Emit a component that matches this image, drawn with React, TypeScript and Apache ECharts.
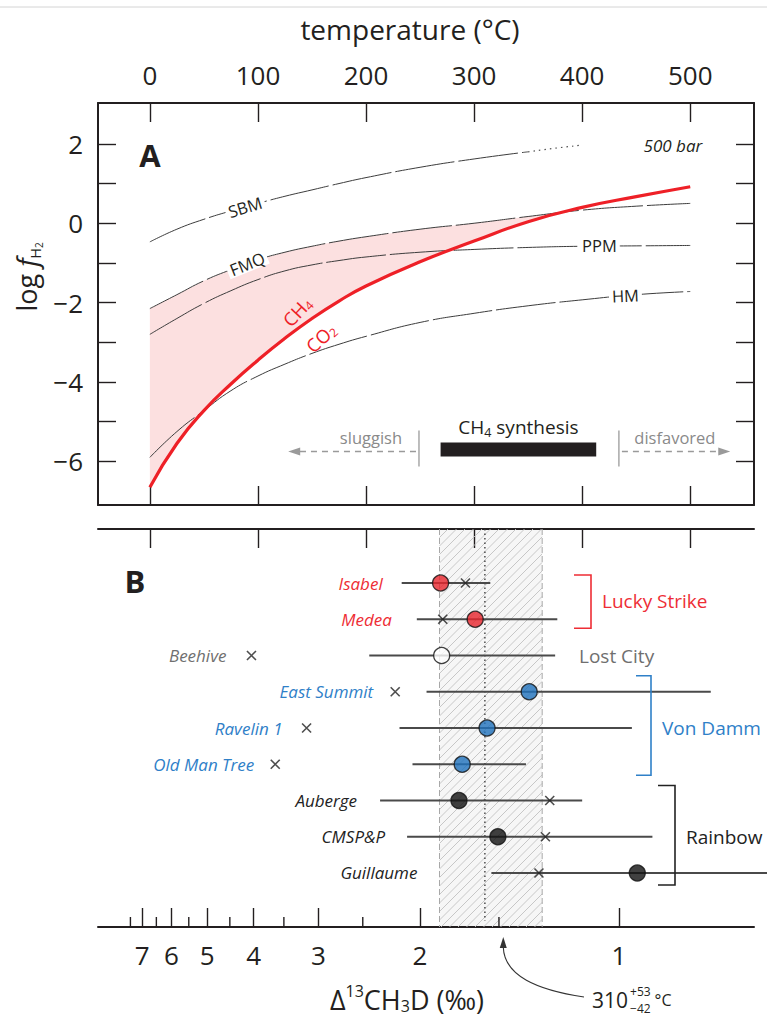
import React, { useEffect, useRef } from 'react';
import * as echarts from 'echarts';

const FONT = "'Open Sans', 'Noto Sans', 'DejaVu Sans', sans-serif";
const INK = '#231f20';

// ================= DATA =================
// Panel A: temperature axis (°C) and log fH2 axis
const tempTicks = [0, 100, 200, 300, 400, 500];
const logTicks = [-6, -5, -4, -3, -2, -1, 0, 1, 2];
const logLabels = [-6, -4, -2, 0, 2];

// Buffer curves at 500 bar (log fH2 vs T)
const curveT = [0, 25, 50, 75, 100, 125, 150, 175, 200, 250, 300, 350, 400, 450, 500];
const ch4co2 = [-6.65, -5.55, -4.72, -4.05, -3.45, -2.9, -2.4, -1.96, -1.58, -0.97, -0.45, 0.04, 0.4, 0.67, 0.92];
const fmq = [-2.15, -1.8, -1.45, -1.17, -0.92, -0.73, -0.58, -0.45, -0.34, -0.15, 0.0, 0.17, 0.33, 0.43, 0.5];
const ppm = [-2.8, -2.4, -2.02, -1.7, -1.42, -1.2, -1.05, -0.94, -0.85, -0.73, -0.66, -0.61, -0.58, -0.57, -0.56];
const hm = [-5.9, -5.25, -4.72, -4.22, -3.85, -3.55, -3.28, -3.05, -2.85, -2.5, -2.27, -2.08, -1.93, -1.8, -1.72];
const sbmT = [0, 25, 50, 75, 100, 125, 150, 175, 200, 250, 300, 350];
const sbm = [-0.47, -0.15, 0.1, 0.31, 0.5, 0.68, 0.84, 1.0, 1.15, 1.41, 1.62, 1.8];
const sbmDotT = [350, 375, 400];
const sbmDot = [1.8, 1.89, 1.97];

// CH4 synthesis window (°C)
const synthesisRange = [269, 413];
const sluggishEdge = 249;
const disfavoredEdge = 434;
const synthesisLevel = -5.7;

// Panel B: clumped-isotope temperatures (°C)
const sites = ['Isabel', 'Medea', 'Beehive', 'East Summit', 'Ravelin 1', 'Old Man Tree', 'Auberge', 'CMSP&P', 'Guillaume'];
const siteField = ['Lucky Strike', 'Lucky Strike', 'Lost City', 'Von Damm', 'Von Damm', 'Von Damm', 'Rainbow', 'Rainbow', 'Rainbow'];
const siteT = [269, 301, 270, 351, 312, 289, 286, 322, 451];
const siteTLow = [233, 247, 203, 256, 231, 243, 213, 238, 316];
const siteTHigh = [315, 377, 375, 519, 446, 348, 400, 465, 575];
const crossT = [292, 271, 94, 227, 145, 116, 370, 366, 360];
const fields = ['Lucky Strike', 'Lost City', 'Von Damm', 'Rainbow'];

const bandCenter = 310;
const bandPlus = 53;
const bandMinus = 42;

// Δ13CH3D scale expressed in equivalent temperatures
const deltaMajor = [7, 6, 5, 4, 3, 2, 1];
const deltaMajorT = [-7, 20, 53, 96, 156, 250, 434];
const deltaMinor = [7.5, 6.5, 5.5, 4.5, 3.5, 2.5, 1.5];
const deltaMinorT = [-18, 6, 36, 74, 124, 197, 323];

// ================= STYLE / LAYOUT =================
const fieldLabelColor: Record<string, string> = {
  'Lucky Strike': '#ee2d35', 'Lost City': '#6f6f6f', 'Von Damm': '#2f80c8', 'Rainbow': '#222222',
};
const fieldDotColor: Record<string, string> = {
  'Lucky Strike': '#e8262d', 'Lost City': '#ffffff', 'Von Damm': '#1f72bd', 'Rainbow': '#111111',
};
const labelGap = [19, 25, 25, 22, 24, 21, 23, 22, 74];
const bracketLayout: Record<string, { x: number; pad: [number, number]; arm: number }> = {
  'Lucky Strike': { x: 591, pad: [8, 9], arm: 17 },
  'Von Damm': { x: 651, pad: [16, 11], arm: 15 },
  'Rainbow': { x: 675, pad: [15, 12], arm: 17 },
};
const lostCityLabelX = 579;

// ================= HELPERS =================
let measureCtx: CanvasRenderingContext2D | null = null;
function textWidth(t: string, size: number, italic = false, bold = false) {
  if (!measureCtx) measureCtx = document.createElement('canvas').getContext('2d');
  measureCtx!.font = `${italic ? 'italic ' : ''}${bold ? 'bold ' : ''}${size}px ${FONT}`;
  return measureCtx!.measureText(t).width;
}

type Part = { t: string; size: number; dy?: number; italic?: boolean; bold?: boolean; color?: string };

function richRow(
  x: number, y: number, parts: Part[],
  opts: { align?: 'left' | 'center' | 'right'; color?: string; rotation?: number; bg?: string } = {}
) {
  const ws = parts.map((p) => textWidth(p.t, p.size, p.italic, p.bold));
  const total = ws.reduce((a, b) => a + b, 0);
  let cx = opts.align === 'center' ? -total / 2 : opts.align === 'right' ? -total : 0;
  const children: any[] = [];
  if (opts.bg) {
    const maxS = Math.max(...parts.map((p) => p.size));
    children.push({
      type: 'rect', z: 100,
      shape: { x: cx - 3, y: -maxS * 0.5, width: total + 6, height: maxS * 1.0 },
      style: { fill: opts.bg },
    });
  }
  parts.forEach((p, i) => {
    children.push({
      type: 'text', z: 101, x: cx, y: p.dy || 0,
      style: {
        text: p.t, fontSize: p.size, fontFamily: FONT,
        fontStyle: p.italic ? 'italic' : 'normal', fontWeight: p.bold ? 'bold' : 'normal',
        fill: p.color || opts.color || INK, align: 'left', verticalAlign: 'middle',
      },
    });
    cx += ws[i];
  });
  return { type: 'group', x, y, rotation: opts.rotation || 0, z: 100, children };
}

function pinkPolygon(): number[][] {
  const upper: number[][] = [];
  const lower: number[][] = [];
  for (let i = 0; i < curveT.length; i++) {
    const d = fmq[i] - ch4co2[i];
    if (d >= 0) {
      upper.push([curveT[i], fmq[i]]);
      lower.push([curveT[i], ch4co2[i]]);
    } else {
      const dPrev = fmq[i - 1] - ch4co2[i - 1];
      const f = dPrev / (dPrev - d);
      const t = curveT[i - 1] + f * (curveT[i] - curveT[i - 1]);
      const v = fmq[i - 1] + f * (fmq[i] - fmq[i - 1]);
      upper.push([t, v]);
      break;
    }
  }
  return upper.concat(lower.reverse());
}

function buildOption(): any {
  const axisLine = { show: true, onZero: false, lineStyle: { color: INK, width: 2 } };
  const tick = (vals: number[], len = 19) => ({
    show: true, inside: true, length: len, customValues: vals, lineStyle: { color: INK, width: 1.4 },
  });
  const xBase = { type: 'value', min: -48, max: 559, splitLine: { show: false }, axisLine };
  const yA = { type: 'value', min: -7.1, max: 3.03, splitLine: { show: false }, axisLine, gridIndex: 0 };
  const lineSeries = (name: string, T: number[], V: number[], lineStyle: any, z = 3) => ({
    type: 'line', name, xAxisIndex: 0, yAxisIndex: 0, silent: true, z,
    data: T.map((t, i) => [t, V[i]]), smooth: 0.5, symbol: 'none', lineStyle,
  });
  const thin = { color: '#3c3c3c', width: 1, type: [60, 4] };
  const poly = pinkPolygon();

  return {
    animation: false,
    backgroundColor: '#ffffff',
    textStyle: { fontFamily: FONT },
    grid: [
      { left: 98, top: 103, width: 656, height: 402, containLabel: false, outerBoundsMode: 'none' },
      { left: 98, top: 529, width: 656, height: 398, containLabel: false, outerBoundsMode: 'none' },
    ],
    xAxis: [
      {
        ...xBase, gridIndex: 0, position: 'top', axisTick: tick(tempTicks),
        axisLabel: { show: true, customValues: tempTicks, fontSize: 26, fontFamily: FONT, color: INK, margin: 15 },
      },
      { ...xBase, gridIndex: 0, position: 'bottom', axisTick: tick(tempTicks), axisLabel: { show: false } },
      { ...xBase, gridIndex: 1, position: 'top', axisTick: tick(tempTicks), axisLabel: { show: false } },
      {
        ...xBase, gridIndex: 1, position: 'bottom', axisTick: tick(deltaMajorT),
        axisLabel: {
          show: true, customValues: deltaMajorT, fontSize: 26, fontFamily: FONT, color: INK, margin: 15,
          formatter: (v: number) => {
            const i = deltaMajorT.findIndex((t) => Math.abs(t - v) < 1e-6);
            return i >= 0 ? String(deltaMajor[i]) : '';
          },
        },
      },
    ],
    yAxis: [
      {
        ...yA, position: 'left', axisTick: tick(logTicks, 18),
        axisLabel: {
          show: true, customValues: logLabels, fontSize: 26, fontFamily: FONT, color: INK, margin: 15,
          formatter: (v: number) => (v < 0 ? '\u2212' + Math.abs(v) : String(v)),
        },
      },
      { ...yA, position: 'right', axisTick: tick(logTicks, 18), axisLabel: { show: false } },
      { type: 'value', gridIndex: 1, min: -1.49, max: 9.49, inverse: true, show: false },
    ],
    series: [
      {
        type: 'custom', name: 'CH4 field', xAxisIndex: 0, yAxisIndex: 0, silent: true, z: 1,
        data: [[0, 0]],
        renderItem: (_p: any, api: any) => ({
          type: 'polygon',
          shape: { points: poly.map((pt) => api.coord(pt)) },
          style: { fill: 'rgba(238, 70, 70, 0.17)' },
        }),
      },
      lineSeries('SBM', sbmT, sbm, thin),
      lineSeries('SBM ext', sbmDotT, sbmDot, { color: '#555', width: 1.2, type: [1.5, 4] }),
      lineSeries('FMQ', curveT, fmq, thin),
      lineSeries('PPM', curveT, ppm, thin),
      lineSeries('HM', curveT, hm, thin),
      lineSeries('CH4/CO2', curveT, ch4co2, { color: '#ee2027', width: 3.2 }, 4),
      // Panel B: temperature band
      {
        type: 'custom', name: 'band', xAxisIndex: 2, yAxisIndex: 2, silent: true, z: 1,
        data: [[bandCenter, 0]],
        renderItem: (params: any, api: any) => {
          const cs = params.coordSys;
          const yT = cs.y;
          const yB = cs.y + cs.height;
          const xL = api.coord([bandCenter - bandMinus, 0])[0];
          const xR = api.coord([bandCenter + bandPlus, 0])[0];
          const xC = api.coord([bandCenter, 0])[0];
          const children: any[] = [
            { type: 'rect', shape: { x: xL, y: yT, width: xR - xL, height: yB - yT }, style: { fill: 'rgba(0,0,0,0.035)' } },
          ];
          for (let c = xL + yT; c <= xR + yB; c += 8.5) {
            const xa = Math.max(xL, c - yB);
            const xb = Math.min(xR, c - yT);
            if (xb > xa) {
              children.push({
                type: 'line', shape: { x1: xa, y1: c - xa, x2: xb, y2: c - xb },
                style: { stroke: '#c2c2c2', lineWidth: 0.9 },
              });
            }
          }
          [xL, xR].forEach((x) => children.push({
            type: 'line', shape: { x1: x, y1: yT, x2: x, y2: yB },
            style: { stroke: '#a8a8a8', lineWidth: 1, lineDash: [6, 3] },
          }));
          children.push({
            type: 'line', shape: { x1: xC, y1: yT, x2: xC, y2: yB - 6 },
            style: { stroke: '#333', lineWidth: 1.3, lineDash: [1.5, 3] },
          });
          return { type: 'group', children };
        },
      },
      // Panel B: error bars + site names
      {
        type: 'custom', name: 'ranges', xAxisIndex: 2, yAxisIndex: 2, silent: true, z: 3,
        encode: { x: [0, 2], y: 1 },
        data: sites.map((_, i) => [siteTLow[i], i, siteTHigh[i], Math.min(siteTLow[i], crossT[i])]),
        renderItem: (params: any, api: any) => {
          const i = params.dataIndex;
          const a = api.coord([api.value(0), api.value(1)]);
          const b = api.coord([api.value(2), api.value(1)]);
          const lm = api.coord([api.value(3), api.value(1)]);
          return {
            type: 'group',
            children: [
              { type: 'line', shape: { x1: a[0], y1: a[1], x2: b[0], y2: b[1] }, style: { stroke: '#4a4a4a', lineWidth: 1.8 } },
              {
                type: 'text', x: lm[0] - labelGap[i], y: lm[1],
                style: {
                  text: sites[i], fill: fieldLabelColor[siteField[i]], fontSize: 17, fontStyle: 'italic',
                  fontFamily: FONT, align: 'right', verticalAlign: 'middle',
                },
              },
            ],
          };
        },
      },
      {
        type: 'scatter', name: 'model', xAxisIndex: 2, yAxisIndex: 2, silent: true, z: 4,
        symbol: 'path://M0,0L10,10M0,10L10,0', symbolSize: 9,
        itemStyle: { color: 'rgba(0,0,0,0)', borderColor: '#222', borderWidth: 1.6 },
        data: crossT.map((t, i) => [t, i]),
      },
      {
        type: 'scatter', name: 'sites', xAxisIndex: 2, yAxisIndex: 2, silent: true, z: 5,
        symbol: 'circle', symbolSize: 16,
        itemStyle: { borderColor: '#111', borderWidth: 1.3 },
        data: siteT.map((t, i) => ({ value: [t, i], itemStyle: { color: fieldDotColor[siteField[i]] } })),
      },
    ],
  };
}

function buildGraphics(P: (g: number, x: number, y: number) => number[]) {
  const els: any[] = [];
  const gray = '#9a9a9a';
  // page rule at the very top
  els.push({ type: 'line', shape: { x1: 0, y1: 7, x2: 767, y2: 7 }, style: { stroke: '#d4d4d4', lineWidth: 1 } });
  // titles
  els.push(richRow(410, 29, [{ t: 'temperature (°C)', size: 28 }], { align: 'center' }));
  els.push(richRow(150, 155, [{ t: 'A', size: 31, bold: true }], { align: 'center' }));
  els.push(richRow(135, 581, [{ t: 'B', size: 31, bold: true }], { align: 'center' }));
  els.push(richRow(26, 277, [
    { t: 'log ', size: 27 },
    { t: 'f', size: 27, italic: true },
    { t: 'H', size: 14, dy: 9 },
    { t: '2', size: 10, dy: 13 },
  ], { align: 'center', rotation: Math.PI / 2 }));

  // minor ticks of the Δ13CH3D axis (half-permil steps)
  deltaMinorT.forEach((t) => {
    const p = P(1, t, 9.49);
    els.push({ type: 'line', z: 60, shape: { x1: p[0], y1: p[1], x2: p[0], y2: p[1] - 10 }, style: { stroke: INK, lineWidth: 1.4 } });
  });

  // curve labels
  const lab = (T: number, v: number, text: string, rot: number, italic = false) => {
    const p = P(0, T, v);
    return richRow(p[0], p[1], [{ t: text, size: 16.5, italic }], { align: 'center', rotation: rot, bg: '#ffffff' });
  };
  els.push(lab(88, 0.41, 'SBM', 0.3));
  els.push(lab(90, -1.02, 'FMQ', 0.38));
  els.push(lab(416, -0.57, 'PPM', 0));
  els.push(lab(440, -1.82, 'HM', 0.04));
  const pb = P(0, 484, 1.97);
  els.push(richRow(pb[0], pb[1], [{ t: '500 bar', size: 17, italic: true }], { align: 'center' }));
  const pch4 = P(0, 136, -2.22);
  els.push(richRow(pch4[0], pch4[1], [{ t: 'CH', size: 18.5 }, { t: '4', size: 12, dy: 5 }], { align: 'center', rotation: 0.82, color: '#ee2027' }));
  const pco2 = P(0, 158, -2.88);
  els.push(richRow(pco2[0], pco2[1], [{ t: 'CO', size: 18.5 }, { t: '2', size: 12, dy: 5 }], { align: 'center', rotation: 0.74, color: '#ee2027' }));

  // CH4 synthesis bar and arrows
  const b0 = P(0, synthesisRange[0], synthesisLevel);
  const b1 = P(0, synthesisRange[1], synthesisLevel);
  els.push({ type: 'rect', z: 50, shape: { x: b0[0], y: b0[1] - 7, width: b1[0] - b0[0], height: 14 }, style: { fill: '#231f20' } });
  els.push(richRow((b0[0] + b1[0]) / 2, b0[1] - 22, [{ t: 'CH', size: 19 }, { t: '4', size: 12.5, dy: 5 }, { t: ' synthesis', size: 19 }], { align: 'center' }));
  const sl = P(0, sluggishEdge, synthesisLevel);
  const df = P(0, disfavoredEdge, synthesisLevel);
  [sl, df].forEach((p) => els.push({ type: 'line', z: 50, shape: { x1: p[0], y1: p[1] - 19, x2: p[0], y2: p[1] + 17 }, style: { stroke: gray, lineWidth: 1.3 } }));
  const slEnd = P(0, 128, synthesisLevel);
  const dfEnd = P(0, 537, synthesisLevel);
  els.push({ type: 'line', z: 50, shape: { x1: sl[0] - 3, y1: sl[1] + 2, x2: slEnd[0] + 10, y2: slEnd[1] + 2 }, style: { stroke: gray, lineWidth: 1.5, lineDash: [6, 5] } });
  els.push({ type: 'polygon', z: 50, shape: { points: [[slEnd[0], slEnd[1] + 2], [slEnd[0] + 12, slEnd[1] - 2], [slEnd[0] + 12, slEnd[1] + 6]] }, style: { fill: gray } });
  els.push({ type: 'line', z: 50, shape: { x1: df[0] + 3, y1: df[1] + 2, x2: dfEnd[0] - 10, y2: dfEnd[1] + 2 }, style: { stroke: gray, lineWidth: 1.5, lineDash: [6, 5] } });
  els.push({ type: 'polygon', z: 50, shape: { points: [[dfEnd[0], dfEnd[1] + 2], [dfEnd[0] - 12, dfEnd[1] - 2], [dfEnd[0] - 12, dfEnd[1] + 6]] }, style: { fill: gray } });
  els.push(richRow(sl[0] - 48, sl[1] - 12, [{ t: 'sluggish', size: 16.5, color: '#8a8a8a' }], { align: 'center' }));
  els.push(richRow(df[0] + 56, df[1] - 12, [{ t: 'disfavored', size: 16.5, color: '#8a8a8a' }], { align: 'center' }));

  // Panel B brackets and field names
  fields.forEach((f) => {
    const rows = siteField.map((s, i) => (s === f ? i : -1)).filter((i) => i >= 0);
    const yTop = P(1, 0, rows[0])[1];
    const yBot = P(1, 0, rows[rows.length - 1])[1];
    const color = fieldLabelColor[f];
    if (f === 'Lost City') {
      els.push(richRow(lostCityLabelX, yTop, [{ t: f, size: 19 }], { color }));
      return;
    }
    const L = bracketLayout[f];
    const y0 = yTop - L.pad[0];
    const y1 = yBot + L.pad[1];
    els.push({
      type: 'polyline', z: 60,
      shape: { points: [[L.x - L.arm, y0], [L.x, y0], [L.x, y1], [L.x - L.arm, y1]] },
      style: { stroke: color, lineWidth: 1.6, fill: 'none' },
    });
    els.push(richRow(L.x + 11, (yTop + yBot) / 2, [{ t: f, size: 19 }], { color }));
  });

  // Δ13CH3D axis title
  els.push(richRow(407, 999, [
    { t: '\u0394', size: 27 },
    { t: '13', size: 16, dy: -8 },
    { t: 'CH', size: 27 },
    { t: '3', size: 16, dy: 7 },
    { t: 'D (\u2030)', size: 27 },
  ], { align: 'center' }));

  // 310 +53/-42 °C annotation with curved arrow
  const w310 = textWidth('310', 21);
  const wSup = Math.max(textWidth('+53', 12), textWidth('\u221242', 12));
  els.push(richRow(592, 1000, [{ t: '310', size: 21 }]));
  els.push(richRow(592 + w310 + 2, 991, [{ t: '+53', size: 12 }]));
  els.push(richRow(592 + w310 + 2, 1008, [{ t: '\u221242', size: 12 }]));
  els.push(richRow(592 + w310 + wSup + 6, 1000, [{ t: '°C', size: 16 }]));
  const tip = P(1, bandCenter + 17, 9.49);
  els.push({
    type: 'bezierCurve', z: 60,
    shape: { x1: 584, y1: 997, cpx1: 537, cpy1: 990, cpx2: tip[0] + 1, cpy2: 976, x2: tip[0], y2: tip[1] + 20 },
    style: { stroke: '#333', lineWidth: 1.1, fill: 'none' },
  });
  els.push({
    type: 'polygon', z: 60,
    shape: { points: [[tip[0], tip[1] + 10], [tip[0] - 3.5, tip[1] + 21], [tip[0] + 3.5, tip[1] + 21]] },
    style: { fill: '#333' },
  });
  return els;
}

export default function App() {
  const ref = useRef<HTMLDivElement>(null);
  useEffect(() => {
    if (!ref.current) return;
    const chart = echarts.init(ref.current, undefined, { renderer: 'svg' });
    chart.setOption(buildOption());
    const P = (g: number, x: number, y: number) => chart.convertToPixel({ gridIndex: g } as any, [x, y]) as number[];
    chart.setOption({ graphic: { elements: buildGraphics(P) } });
    return () => chart.dispose();
  }, []);
  return (
    <div
      ref={ref}
      style={{ position: 'fixed', left: 0, top: 0, width: 767, height: 1017, background: '#ffffff' }}
    />
  );
}
